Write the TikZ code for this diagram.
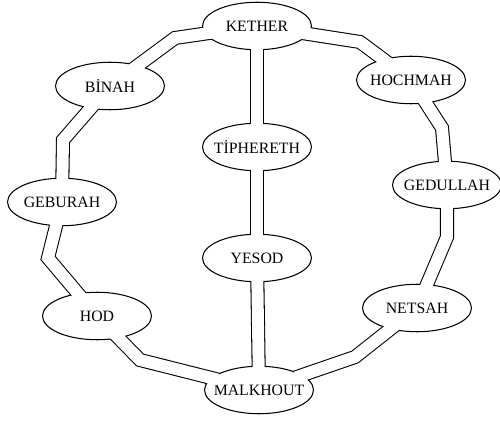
\documentclass[tikz,border=0pt]{standalone}
\usepackage{fontspec}
\setmainfont{Liberation Serif}
\usetikzlibrary{shapes.geometric}

\pgfdeclarelayer{back}
\pgfsetlayers{back,main}

\begin{document}
\begin{tikzpicture}[
  x=0.02cm, y=-0.02cm,
  font=\fontsize{9}{11}\selectfont,
  sephira/.style={ellipse, draw=black, line width=0.6pt, fill=white, minimum width=2.18cm, minimum height=0.95cm, inner xsep=-4pt, inner ysep=0pt},
  pipeout/.style={draw=black, line width=8pt, shorten <=-6pt, shorten >=-6pt},
  pipein/.style={draw=white, line width=6.8pt, shorten <=-4pt, shorten >=-4pt}
]
\useasboundingbox (0,0) rectangle (500,421);

%% ============ Middle pillar ============
\node[sephira] (kether)    at (257,26)  {KETHER};
\node[sephira] (tiphereth) at (257,147) {TİPHERETH};
\node[sephira] (yesod)     at (257,258) {YESOD};
\node[sephira] (malkhout)  at (259,390) {MALKHOUT};

%% ============ Left pillar ============
\node[sephira] (binah)   at (110,86)  {BİNAH};
\node[sephira] (geburah) at (62,202)  {GEBURAH};
\node[sephira] (hod)     at (97,316)  {HOD};

%% ============ Right pillar ============
\node[sephira] (hochmah)  at (411,80)  {HOCHMAH};
\node[sephira] (gedullah) at (447,185) {GEDULLAH};
\node[sephira] (netsah)   at (417,308) {NETSAH};

%% bends of the outer ring
\coordinate (kb) at (175,38);
\coordinate (bg) at (63,140);
\coordinate (gh) at (48,258);
\coordinate (hm) at (140,360);
\coordinate (kc) at (360,42);
\coordinate (cg) at (442,128);
\coordinate (gn) at (447,237);
\coordinate (nm) at (355,357);

%% pipes: black outer wall behind the nodes, white bore on top
\foreach \a/\m/\b in {kether/kb/binah, binah/bg/geburah, geburah/gh/hod, hod/hm/malkhout,
                      kether/kc/hochmah, hochmah/cg/gedullah, gedullah/gn/netsah, netsah/nm/malkhout}{
  \begin{pgfonlayer}{back}
    \draw[pipeout] (\a) -- (\m) -- (\b);
  \end{pgfonlayer}
  \draw[pipein] (\a) -- (\m) -- (\b);
}
\foreach \a/\b in {kether/tiphereth, tiphereth/yesod, yesod/malkhout}{
  \begin{pgfonlayer}{back}
    \draw[pipeout] (\a) -- (\b);
  \end{pgfonlayer}
  \draw[pipein] (\a) -- (\b);
}

\end{tikzpicture}
\end{document}
